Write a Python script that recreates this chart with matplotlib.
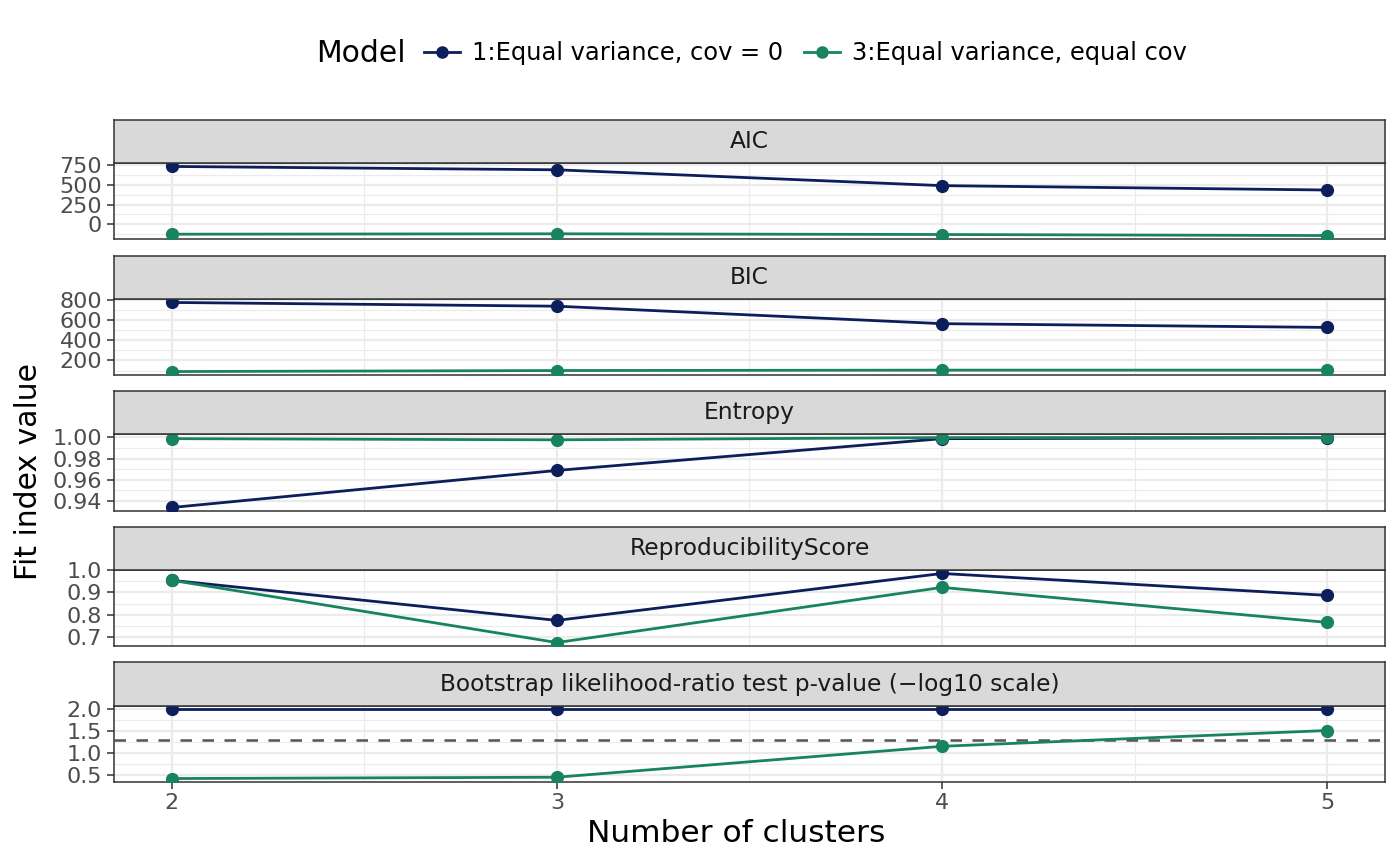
import matplotlib
matplotlib.use("Agg")
import matplotlib.pyplot as plt
from matplotlib.lines import Line2D
from matplotlib.ticker import FixedLocator
import numpy as np

clusters = [2, 3, 4, 5]
model_names = ["1:Equal variance, cov = 0", "3:Equal variance, equal cov"]
model_colors = ["#0C1E5B", "#17845F"]

panel_titles = ["AIC", "BIC", "Entropy", "ReproducibilityScore",
                "Bootstrap likelihood-ratio test p-value (\u2212log10 scale)"]

aic_m1 = [728, 686, 487, 432]
aic_m3 = [-123, -118, -127, -140]
bic_m1 = [774, 737, 564, 527]
bic_m3 = [90, 100, 104, 104]
entropy_m1 = [0.9336, 0.9687, 0.9988, 0.9996]
entropy_m3 = [0.9988, 0.9977, 0.9998, 0.9999]
repro_m1 = [0.955, 0.774, 0.986, 0.887]
repro_m3 = [0.955, 0.674, 0.923, 0.765]
blrt_m1 = [2.0, 2.0, 2.0, 2.0]
blrt_m3 = [0.425, 0.455, 1.16, 1.52]
blrt_threshold = 1.301

series = [(aic_m1, aic_m3), (bic_m1, bic_m3), (entropy_m1, entropy_m3),
          (repro_m1, repro_m3), (blrt_m1, blrt_m3)]
yticks = [[0, 250, 500, 750], [200, 400, 600, 800], [0.94, 0.96, 0.98, 1.00],
          [0.7, 0.8, 0.9, 1.0], [0.5, 1.0, 1.5, 2.0]]
ytick_labels = [["0", "250", "500", "750"], ["200", "400", "600", "800"],
                ["0.94", "0.96", "0.98", "1.00"], ["0.7", "0.8", "0.9", "1.0"],
                ["0.5", "1.0", "1.5", "2.0"]]

W, H = 1400, 866
fig = plt.figure(figsize=(14, 8.66), dpi=100)
fig.patch.set_facecolor("white")

# layout in pixels: (strip top, panel top, panel bottom)
layout = [(120, 163, 239), (256, 299, 375), (391, 434, 511), (527, 570, 646), (662, 706, 782)]
left_px, right_px = 114, 1385

border = "#333333"
gridc = "#EBEBEB"

for i, (st, pt, pb) in enumerate(layout):
    ax = fig.add_axes([left_px / W, 1 - pb / H, (right_px - left_px) / W, (pb - pt) / H])
    m1, m3 = series[i]
    for vals, col, name in [(m1, model_colors[0], model_names[0]), (m3, model_colors[1], model_names[1])]:
        ax.plot(clusters, vals, color=col, lw=2.0, marker="o", ms=8.5, zorder=3,
                solid_capstyle="butt")
    if i == 4:
        ax.axhline(blrt_threshold, color="#555555", lw=1.8, dashes=(4.6, 4.2), zorder=2)
    allv = list(m1) + list(m3)
    if i == 4:
        allv.append(blrt_threshold)
    lo, hi = min(allv), max(allv)
    r = hi - lo
    ax.set_ylim(lo - 0.05 * r, hi + 0.05 * r)
    ax.set_xlim(2 - 0.15, 5 + 0.15)
    yt = yticks[i]
    ax.set_yticks(yt)
    ax.set_yticklabels(ytick_labels[i])
    step = yt[1] - yt[0]
    minors = [yt[0] - step / 2] + [v + step / 2 for v in yt]
    ax.yaxis.set_minor_locator(FixedLocator(minors))
    ax.set_xticks(clusters)
    ax.xaxis.set_minor_locator(FixedLocator([2.5, 3.5, 4.5]))
    ax.grid(which="major", color=gridc, lw=1.6, zorder=0)
    ax.grid(which="minor", color=gridc, lw=0.8, zorder=0)
    ax.set_axisbelow(True)
    ax.tick_params(axis="y", which="major", length=5, width=1.1, color=border,
                   labelsize=16, labelcolor="#4D4D4D", pad=3.5)
    ax.tick_params(which="minor", length=0)
    if i == 4:
        ax.tick_params(axis="x", which="major", length=5, width=1.1, color=border,
                       labelsize=16, labelcolor="#4D4D4D", pad=3.0)
    else:
        ax.tick_params(axis="x", which="major", length=0, labelbottom=False)
    for s in ax.spines.values():
        s.set_color(border)
        s.set_linewidth(1.1)

    sax = fig.add_axes([left_px / W, 1 - pt / H, (right_px - left_px) / W, (pt - st) / H])
    sax.set_facecolor("#D9D9D9")
    sax.set_xticks([])
    sax.set_yticks([])
    for s in sax.spines.values():
        s.set_color(border)
        s.set_linewidth(1.1)
    sax.text(0.5, 0.5, panel_titles[i], ha="center", va="center", fontsize=16.8,
             color="#1A1A1A", transform=sax.transAxes)

fig.text(29 / W, 1 - 472 / H, "Fit index value", rotation=90, ha="center", va="center",
         fontsize=21.5, color="black")
fig.text(736 / W, 1 - 833 / H, "Number of clusters", ha="center", va="center",
         fontsize=22.5, color="black")

fig.text(316 / W, 1 - 53 / H, "Model", ha="left", va="center", fontsize=21.5, color="black")
handles = [Line2D([0], [0], color=c, lw=2.0, marker="o", ms=8) for c in model_colors]
leg = fig.legend(handles, model_names, loc="center left", bbox_to_anchor=(424 / W, 1 - 53 / H),
                 ncol=2, frameon=False, fontsize=17.4, handlelength=1.5, handletextpad=0.5,
                 columnspacing=0.85, borderpad=0, borderaxespad=0)

fig.savefig("out.png", dpi=100, facecolor="white")
